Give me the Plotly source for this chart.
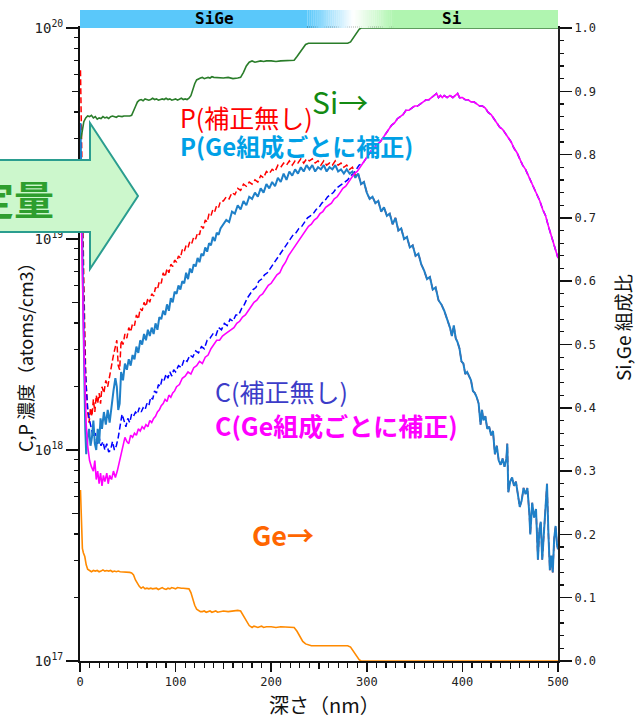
import plotly.graph_objects as go

# ---------------- data (depth in nm, concentration as log10 atoms/cm3) -------------
P_RAW_HEAD = [
    (0.5, 19.8), (2, 19.3), (4, 18.8), (6, 18.35), (8, 18.18), (9.5, 18.13), (11, 18.20),
    (12.5, 18.16), (14, 18.24), (15.5, 18.18), (17, 18.26), (18.5, 18.22), (20, 18.27),
    (21.5, 18.22), (23, 18.30), (25, 18.27), (27, 18.33), (29, 18.30), (31, 18.36),
    (33, 18.40), (35, 18.45), (37, 18.50), (38.5, 18.52), (40, 18.40), (41.5, 18.38),
    (43, 18.52), (45, 18.50), (47, 18.55), (49, 18.53), (51, 18.58), (53, 18.56),
    (55, 18.60), (57, 18.59), (59, 18.64), (61, 18.62), (63, 18.67), (65, 18.66),
    (67, 18.70), (69, 18.68), (71, 18.72), (73, 18.70), (75, 18.74), (77, 18.73),
    (79, 18.77), (81, 18.76), (83, 18.80), (85, 18.79), (87, 18.84), (89, 18.82),
    (91, 18.86), (93, 18.84), (95, 18.88), (97, 18.87), (99, 18.90), (101, 18.89),
    (103, 18.92), (105, 18.91), (107, 18.95), (109, 18.94), (111, 18.97), (113, 18.96),
    (115, 18.99), (117, 18.98), (119, 19.01), (121, 19.00), (123, 19.03), (125, 19.02),
    (127, 19.06), (129, 19.05), (131, 19.09), (133, 19.08), (135, 19.12), (137, 19.11),
    (139, 19.14), (141, 19.13), (143, 19.16), (145, 19.15), (147, 19.18), (150, 19.18),
    (153, 19.20), (156, 19.19), (159, 19.22), (162, 19.21), (165, 19.24), (168, 19.23),
    (171, 19.26), (174, 19.25), (177, 19.27), (180, 19.26), (183, 19.28), (186, 19.27),
    (189, 19.30), (192, 19.29), (195, 19.32), (198, 19.31), (201, 19.33), (204, 19.32),
    (207, 19.35), (210, 19.34), (213, 19.36), (216, 19.35), (219, 19.37), (222, 19.35),
    (225, 19.37), (228, 19.36), (231, 19.38), (234, 19.36), (237, 19.38), (240, 19.37),
    (243, 19.38), (246, 19.36), (249, 19.37), (252, 19.35), (255, 19.37), (258, 19.35),
    (261, 19.36), (264, 19.35), (267, 19.37), (270, 19.35), (273, 19.36), (276, 19.34),
    (279, 19.35), (282, 19.33), (285, 19.34), (288, 19.30),
]

P_CORR = [
    (0.5, 19.55), (2, 19.0), (4, 18.5), (5.5, 18.1), (6.5, 17.98), (8, 18.06), (9.5, 18.10),
    (11, 18.02), (12.5, 18.06), (14, 18.14), (15.5, 18.03), (17, 18.00), (18.5, 18.10),
    (20, 18.03), (21.5, 18.15), (23, 18.10), (25, 18.18), (27, 18.12), (29, 18.19),
    (31, 18.13), (33, 18.22), (35, 18.28), (37, 18.34), (38.5, 18.30), (40, 18.19),
    (41.5, 18.22), (43, 18.37), (45, 18.33), (47, 18.41), (49, 18.38), (51, 18.43),
    (53, 18.40), (55, 18.45), (57, 18.43), (59, 18.49), (61, 18.46), (63, 18.52),
    (65, 18.50), (67, 18.55), (69, 18.52), (71, 18.57), (73, 18.54), (75, 18.58),
    (77, 18.55), (79, 18.60), (81, 18.57), (83, 18.63), (85, 18.62), (87, 18.66),
    (89, 18.64), (91, 18.69), (93, 18.66), (95, 18.72), (97, 18.70), (99, 18.75),
    (101, 18.74), (103, 18.78), (105, 18.76), (107, 18.80), (109, 18.79), (111, 18.84),
    (113, 18.81), (115, 18.86), (117, 18.84), (119, 18.88), (121, 18.87), (123, 18.91),
    (125, 18.89), (127, 18.93), (129, 18.92), (131, 18.96), (133, 18.94), (135, 18.98),
    (137, 18.97), (139, 19.01), (141, 18.99), (143, 19.03), (145, 19.02), (147, 19.05),
    (150, 19.07), (153, 19.09), (156, 19.08), (159, 19.13), (162, 19.12), (165, 19.16),
    (168, 19.14), (171, 19.18), (174, 19.16), (177, 19.20), (180, 19.19), (183, 19.22),
    (186, 19.20), (189, 19.24), (192, 19.22), (195, 19.26), (198, 19.24), (201, 19.27),
    (204, 19.25), (207, 19.29), (210, 19.27), (213, 19.31), (216, 19.28), (219, 19.32),
    (222, 19.30), (225, 19.33), (228, 19.31), (231, 19.34), (234, 19.32), (237, 19.35),
    (240, 19.33), (243, 19.35), (246, 19.32), (249, 19.34), (252, 19.33), (255, 19.35),
    (258, 19.32), (261, 19.34), (264, 19.33), (267, 19.35), (270, 19.32), (273, 19.33),
    (276, 19.31), (279, 19.33), (282, 19.31), (285, 19.32), (288, 19.29), (291, 19.31),
    (294, 19.26), (297, 19.27), (300, 19.22), (303, 19.19), (306, 19.20), (309, 19.17),
    (312, 19.18), (315, 19.13), (318, 19.15), (321, 19.11), (324, 19.12), (327, 19.07),
    (330, 19.10), (333, 19.04), (336, 19.05), (339, 19.00), (342, 19.01), (345, 18.96),
    (348, 18.97), (351, 18.92), (354, 18.93), (357, 18.88), (360, 18.85), (363, 18.81),
    (366, 18.82), (369, 18.76), (372, 18.77), (375, 18.71), (378, 18.69), (381, 18.66),
    (384, 18.62), (387, 18.58), (389, 18.54), (391, 18.59), (393, 18.53), (395, 18.51),
    (397, 18.48), (399, 18.42), (401, 18.41), (403, 18.36), (405, 18.37), (407, 18.35),
    (409, 18.33), (411, 18.28), (413, 18.27), (415, 18.25), (417, 18.22), (419, 18.12),
    (420.5, 18.19), (422, 18.14), (424, 18.16), (426, 18.10), (428, 18.11), (430, 18.07),
    (432, 18.09), (434, 17.98), (436, 18.02), (438, 17.95), (440, 17.93), (442, 17.96),
    (444, 17.92), (446, 17.96), (447, 18.03), (448, 17.80), (450, 17.85), (452, 17.87),
    (454, 17.83), (456, 17.85), (458, 17.78), (460, 17.73), (462, 17.76), (464, 17.82),
    (466, 17.79), (468, 17.82), (470, 17.70), (471, 17.60), (473, 17.75), (475, 17.68),
    (477, 17.72), (479, 17.48), (480.5, 17.62), (482, 17.66), (483.5, 17.48), (485, 17.58),
    (487, 17.70), (488.5, 17.84), (490, 17.60), (491.5, 17.43), (493, 17.50),
    (494.5, 17.42), (496, 17.58), (497.5, 17.64), (499, 17.55), (500, 17.53),
]

C_RAW_HEAD = [
    (0.5, 19.5), (2, 19.1), (3, 18.8), (5, 18.45), (6.5, 18.30), (8, 18.2), (10, 18.14),
    (12, 18.10), (14, 18.06), (16, 18.08), (18, 18.03), (20, 18.06), (22, 18.02),
    (24, 18.04), (26, 18.00), (28, 18.03), (30, 17.99), (32, 18.00), (34, 18.04),
    (36, 18.00), (38, 18.02), (40, 18.06), (42, 18.12), (44, 18.17), (46, 18.14),
    (48, 18.11), (50, 18.15), (52, 18.13), (54, 18.17), (56, 18.16), (58, 18.18),
    (60, 18.17), (62, 18.20), (64, 18.18), (66, 18.20), (68, 18.19), (70, 18.22),
    (72, 18.21), (74, 18.25), (76, 18.24), (78, 18.28), (80, 18.27), (82, 18.31),
    (84, 18.30), (86, 18.34), (88, 18.33), (90, 18.36), (92, 18.34), (94, 18.37),
    (96, 18.35), (98, 18.38), (100, 18.37), (103, 18.40), (106, 18.39), (109, 18.43),
    (112, 18.42), (115, 18.45), (118, 18.44), (121, 18.47), (124, 18.46), (127, 18.49),
    (130, 18.48), (133, 18.52), (136, 18.53), (139, 18.55), (142, 18.54), (145, 18.58),
    (148, 18.57), (151, 18.60), (154, 18.59), (157, 18.62), (160, 18.61), (163, 18.64),
    (166, 18.64), (169, 18.67), (172, 18.69), (175, 18.72), (178, 18.74), (181, 18.76),
    (184, 18.77), (187, 18.80), (190, 18.81), (193, 18.83), (196, 18.84), (199, 18.86),
    (202, 18.88), (205, 18.90), (208, 18.92), (211, 18.94), (214, 18.96), (217, 18.98),
    (220, 19.00), (223, 19.02), (226, 19.03), (229, 19.05), (232, 19.06), (235, 19.08),
    (238, 19.10), (241, 19.11), (244, 19.12), (247, 19.14), (250, 19.15), (253, 19.17),
    (256, 19.18), (259, 19.20), (262, 19.21), (265, 19.22), (268, 19.24), (271, 19.25),
    (274, 19.26), (277, 19.27), (280, 19.28), (283, 19.30), (286, 19.31), (289, 19.33),
    (292, 19.35),
]

C_CORR_HEAD = [
    (0.5, 19.3), (2, 18.9), (3.5, 18.6), (5, 18.33), (6.5, 18.12), (8, 18.02), (10, 17.95),
    (12, 17.92), (14, 17.90), (15.5, 17.95), (17, 17.86), (18.5, 17.90), (20, 17.84),
    (21.5, 17.89), (23, 17.83), (24.5, 17.88), (26, 17.85), (28, 17.89), (29.5, 17.84),
    (31, 17.88), (33, 17.86), (35, 17.90), (37, 17.87), (39, 17.90), (41, 17.94),
    (43, 17.99), (45, 18.02), (47, 18.06), (49, 18.04), (51, 18.03), (53, 18.07),
    (55, 18.06), (57, 18.08), (59, 18.07), (61, 18.10), (63, 18.09), (65, 18.11),
    (67, 18.10), (69, 18.12), (71, 18.11), (73, 18.14), (75, 18.13), (77, 18.15),
    (79, 18.16), (81, 18.18), (83, 18.19), (85, 18.21), (87, 18.22), (89, 18.24),
    (91, 18.23), (93, 18.26), (95, 18.25), (97, 18.27), (99, 18.28), (101, 18.30),
    (104, 18.31), (107, 18.34), (110, 18.35), (113, 18.37), (116, 18.36), (119, 18.39),
    (122, 18.40), (125, 18.42), (128, 18.41), (131, 18.44), (134, 18.45), (137, 18.48),
    (140, 18.50), (143, 18.52), (146, 18.52), (149, 18.54), (152, 18.55), (155, 18.56),
    (158, 18.57), (161, 18.58), (164, 18.60), (167, 18.61), (170, 18.63), (173, 18.64),
    (176, 18.66), (179, 18.68), (182, 18.70), (185, 18.71), (188, 18.73), (191, 18.74),
    (194, 18.76), (197, 18.78), (200, 18.79), (203, 18.81), (206, 18.83), (209, 18.84),
    (212, 18.87), (215, 18.89), (218, 18.92), (221, 18.94), (224, 18.96), (227, 18.98),
    (230, 19.00), (233, 19.02), (236, 19.04), (239, 19.06), (242, 19.07), (245, 19.09),
    (248, 19.10), (251, 19.12), (254, 19.13), (257, 19.15), (260, 19.16), (263, 19.17),
    (266, 19.19), (269, 19.20), (272, 19.22), (275, 19.24), (278, 19.25), (281, 19.27),
    (284, 19.29), (287, 19.31), (290, 19.32), (293, 19.34),
]

C_TAIL = [
    (296, 19.36), (299, 19.38), (302, 19.40), (305, 19.42), (308, 19.43), (311, 19.45),
    (314, 19.46), (317, 19.48), (320, 19.50), (323, 19.52), (326, 19.54), (329, 19.55),
    (332, 19.57), (335, 19.58), (338, 19.59), (341, 19.61), (344, 19.61), (347, 19.62),
    (350, 19.63), (353, 19.63), (356, 19.64), (359, 19.65), (362, 19.66), (365, 19.66),
    (368, 19.67), (371, 19.68), (373, 19.69), (375, 19.67), (377, 19.68), (379, 19.67),
    (381, 19.68), (384, 19.67), (387, 19.68), (390, 19.67), (393, 19.68), (395, 19.69),
    (397, 19.67), (400, 19.67), (403, 19.66), (406, 19.66), (409, 19.65), (412, 19.65),
    (415, 19.64), (418, 19.63), (421, 19.63), (424, 19.62), (427, 19.60), (430, 19.59),
    (433, 19.57), (436, 19.55), (439, 19.53), (442, 19.52), (445, 19.50), (448, 19.48),
    (451, 19.46), (454, 19.43), (457, 19.41), (460, 19.38), (463, 19.35), (466, 19.33),
    (469, 19.30), (472, 19.27), (475, 19.24), (478, 19.21), (481, 19.18), (484, 19.14),
    (487, 19.11), (490, 19.06), (492, 19.03), (494, 19.00), (496, 18.98), (498, 18.94),
    (500, 18.91),
]

SI_FRACTION = [
    (1, 0.825), (2.5, 0.84), (4, 0.852), (6, 0.858), (8, 0.861), (10, 0.860), (12, 0.862),
    (14, 0.858), (16, 0.860), (18, 0.856), (20, 0.858), (22, 0.857), (24, 0.860),
    (26, 0.858), (28, 0.859), (30, 0.857), (32, 0.860), (34, 0.861), (36, 0.860),
    (38, 0.859), (40, 0.861), (42, 0.860), (44, 0.860), (46, 0.861), (48, 0.861),
    (50, 0.860), (52, 0.861), (54, 0.862), (56, 0.868), (58, 0.876), (60, 0.883),
    (62, 0.886), (64, 0.887), (66, 0.885), (68, 0.888), (70, 0.887), (72, 0.886),
    (74, 0.887), (76, 0.889), (78, 0.887), (80, 0.888), (82, 0.886), (84, 0.887),
    (86, 0.888), (88, 0.887), (90, 0.889), (92, 0.887), (94, 0.888), (96, 0.886),
    (98, 0.887), (100, 0.888), (102, 0.886), (104, 0.888), (106, 0.889), (108, 0.887),
    (110, 0.888), (112, 0.887), (114, 0.889), (116, 0.893), (118, 0.903), (120, 0.912),
    (122, 0.918), (124, 0.920), (126, 0.921), (128, 0.922), (130, 0.920), (132, 0.921),
    (134, 0.922), (136, 0.921), (138, 0.923), (140, 0.922), (145, 0.921), (150, 0.921),
    (155, 0.922), (160, 0.920), (165, 0.921), (168, 0.922), (171, 0.930), (174, 0.940),
    (177, 0.946), (180, 0.948), (183, 0.946), (186, 0.947), (189, 0.948), (192, 0.947),
    (195, 0.948), (200, 0.948), (205, 0.947), (210, 0.948), (215, 0.948), (220, 0.948),
    (224, 0.949), (227, 0.955), (230, 0.962), (233, 0.969), (236, 0.974), (239, 0.976),
    (242, 0.976), (250, 0.976), (260, 0.976), (270, 0.976), (280, 0.976), (283, 0.978),
    (286, 0.985), (289, 0.993), (292, 0.998), (294, 1.0), (500, 1.0),
]

GE_FRACTION = [
    (0.5, 0.27), (1.5, 0.22), (2.5, 0.178), (3.5, 0.171), (5, 0.165), (6.5, 0.152),
    (8, 0.145), (10, 0.143), (12, 0.141), (14, 0.143), (16, 0.142), (18, 0.143),
    (20, 0.141), (22, 0.142), (24, 0.144), (26, 0.142), (28, 0.143), (30, 0.142),
    (32, 0.143), (34, 0.141), (36, 0.142), (38, 0.141), (40, 0.142), (42, 0.141),
    (44, 0.141), (46, 0.141), (48, 0.140), (50, 0.140), (52, 0.140), (54, 0.139),
    (56, 0.136), (58, 0.128), (60, 0.122), (62, 0.118), (64, 0.115), (66, 0.117),
    (68, 0.114), (70, 0.115), (72, 0.114), (74, 0.115), (76, 0.114), (78, 0.114),
    (80, 0.115), (82, 0.113), (84, 0.114), (86, 0.116), (88, 0.114), (90, 0.113),
    (92, 0.115), (94, 0.114), (96, 0.116), (98, 0.115), (100, 0.114), (102, 0.116),
    (104, 0.115), (106, 0.115), (108, 0.115), (110, 0.115), (112, 0.115), (114, 0.114),
    (116, 0.108), (118, 0.097), (120, 0.088), (122, 0.082), (124, 0.080), (126, 0.078),
    (128, 0.078), (130, 0.079), (132, 0.077), (134, 0.078), (136, 0.079), (138, 0.077),
    (140, 0.078), (142, 0.079), (144, 0.077), (146, 0.078), (148, 0.078), (150, 0.079),
    (155, 0.078), (160, 0.079), (165, 0.080), (168, 0.079), (171, 0.072), (174, 0.063),
    (177, 0.056), (180, 0.053), (182, 0.055), (184, 0.054), (186, 0.053), (188, 0.054),
    (190, 0.055), (192, 0.053), (195, 0.054), (200, 0.054), (205, 0.053), (210, 0.054),
    (215, 0.054), (220, 0.054), (224, 0.053), (227, 0.047), (230, 0.039), (233, 0.031),
    (236, 0.027), (239, 0.026), (242, 0.024), (250, 0.024), (260, 0.024), (270, 0.024),
    (280, 0.024), (283, 0.022), (286, 0.015), (289, 0.007), (292, 0.002), (294, 0.0),
    (500, 0.0),
]

X_TICKS = [0, 100, 200, 300, 400, 500]
Y_TICKS = [1e17, 1e18, 1e19, 1e20]
Y_TICK_TEXT = ["10<sup>17</sup>", "10<sup>18</sup>", "10<sup>19</sup>", "10<sup>20</sup>"]
R_TICKS = [0.0, 0.1, 0.2, 0.3, 0.4, 0.5, 0.6, 0.7, 0.8, 0.9, 1.0]
R_TICK_TEXT = ["0.0", "0.1", "0.2", "0.3", "0.4", "0.5", "0.6", "0.7", "0.8", "0.9", "1.0"]

# ---------------- helpers ----------------
W, H = 638, 718
ML, MR, MT, MB = 80, 80, 28, 57
PW, PH = W - ML - MR, H - MT - MB


def px_x(px):
    return (px - ML) / PW


def px_y(py):
    return (H - MB - py) / PH


def split(pairs):
    return [p[0] for p in pairs], [p[1] for p in pairs]


def conc(pairs):
    xs, ls = split(pairs)
    return xs, [10.0 ** v for v in ls]


p_raw = P_RAW_HEAD + [p for p in P_CORR if p[0] > P_RAW_HEAD[-1][0]]
c_raw = C_RAW_HEAD + C_TAIL
c_corr = C_CORR_HEAD + C_TAIL

fig = go.Figure()

x, y = conc(p_raw)
fig.add_trace(go.Scatter(x=x, y=y, mode="lines", name="P(補正無し)",
                         line=dict(color="#ff0000", width=1.5, dash="6px,3px")))
x, y = conc(c_raw)
fig.add_trace(go.Scatter(x=x, y=y, mode="lines", name="C(補正無し)",
                         line=dict(color="#0000ff", width=1.5, dash="6px,3px")))
x, y = conc(P_CORR)
fig.add_trace(go.Scatter(x=x, y=y, mode="lines", name="P(Ge組成ごとに補正)",
                         line=dict(color="#1f80c8", width=2)))
x, y = conc(c_corr)
fig.add_trace(go.Scatter(x=x, y=y, mode="lines", name="C(Ge組成ごとに補正)",
                         line=dict(color="#ff00ff", width=1.6)))
x, y = split(GE_FRACTION)
fig.add_trace(go.Scatter(x=x, y=y, mode="lines", name="Ge", yaxis="y2",
                         line=dict(color="#ff8a00", width=1.6)))
x, y = split(SI_FRACTION)
fig.add_trace(go.Scatter(x=x, y=y, mode="lines", name="Si", yaxis="y2",
                         line=dict(color="#2a7d2a", width=1.6)))
# dummy trace carrying the overlay axes used for the intermediate tick marks
fig.add_trace(go.Scatter(x=[None], y=[None], xaxis="x2", yaxis="y3",
                         showlegend=False, hoverinfo="skip"))

TICK_FONT = dict(family="DejaVu Sans Mono", size=12, color="#222222")
LOG_TICK_FONT = dict(family="DejaVu Sans Mono", size=14, color="#222222")
minor_log = [k * 10.0 ** e for e in (17, 18, 19) for k in range(2, 10)]

fig.update_layout(
    width=W, height=H, autosize=False,
    margin=dict(l=ML, r=MR, t=MT, b=MB, pad=0),
    paper_bgcolor="white", plot_bgcolor="white",
    showlegend=False,
    font=TICK_FONT,
    xaxis=dict(range=[0, 500], tickvals=X_TICKS, ticks="outside", ticklen=9,
               tickwidth=1.5, tickcolor="#111", showline=True, mirror=True,
               linecolor="#111", linewidth=2, showgrid=False, zeroline=False,
               tickfont=TICK_FONT, automargin=False,
               minor=dict(ticks="outside", ticklen=5, tickwidth=1.2, dtick=10,
                          tick0=0, tickcolor="#111", showgrid=False)),
    xaxis2=dict(range=[0, 500], overlaying="x", anchor="y3", side="bottom",
                tickvals=[50, 150, 250, 350, 450], ticks="outside", ticklen=7,
                tickwidth=1.2, tickcolor="#111", showticklabels=False,
                showline=False, showgrid=False, zeroline=False),
    yaxis=dict(type="log", range=[17, 20], tickvals=Y_TICKS, ticktext=Y_TICK_TEXT,
               ticks="outside", ticklen=12, tickwidth=1.5, tickcolor="#111",
               showline=True, linecolor="#111", linewidth=2, showgrid=False,
               zeroline=False, tickfont=LOG_TICK_FONT, automargin=False,
               minor=dict(ticks="outside", ticklen=4, tickwidth=1.2,
                          tickvals=minor_log, tickcolor="#111", showgrid=False)),
    yaxis3=dict(type="log", range=[17, 20], overlaying="y", anchor="x2", side="left",
                tickvals=[5e17, 5e18, 5e19], ticks="outside", ticklen=7,
                tickwidth=1.2, tickcolor="#111", showticklabels=False,
                showline=False, showgrid=False, zeroline=False),
    yaxis2=dict(range=[0, 1], overlaying="y", side="right", anchor="x",
                tickvals=R_TICKS, ticktext=R_TICK_TEXT, ticks="outside", ticklen=12,
                tickwidth=1.5, tickcolor="#111", showline=True, linecolor="#222",
                linewidth=2, showgrid=False, zeroline=False, tickfont=TICK_FONT,
                automargin=False,
                minor=dict(ticks="outside", ticklen=4, tickwidth=1.2, dtick=0.02,
                           tick0=0, tickcolor="#111", showgrid=False)),
)

# ---------------- top band SiGe / Si with gradient ----------------
shapes = []
BLUE = (90, 200, 250)
GREEN = (176, 245, 176)
WHITE = (255, 255, 255)
band_y0, band_y1 = px_y(28), px_y(10)


def mix(a, b, t):
    return "rgb(%d,%d,%d)" % tuple(round(a[i] + (b[i] - a[i]) * t) for i in range(3))


def band(x0, x1, color):
    shapes.append(dict(type="rect", xref="x", yref="paper", x0=x0, x1=x1,
                       y0=band_y0, y1=band_y1, fillcolor=color,
                       line=dict(width=0), layer="above"))


band(0, 238, mix(BLUE, BLUE, 0))
n1 = 24
for i in range(n1):
    band(238 + i * 2, 238 + i * 2 + 2.2, mix(BLUE, WHITE, (i + 0.5) / n1))
n2 = 21
for i in range(n2):
    band(286 + i * 2, 286 + i * 2 + 2.2, mix(WHITE, GREEN, (i + 0.5) / n2))
band(327.5, 500, mix(GREEN, GREEN, 0))

# ---------------- big green arrow ----------------
pts = [(-120, 160), (90, 160), (90, 123), (138, 196), (90, 269), (90, 232), (-120, 232)]
path = "M " + " L ".join("%.5f,%.5f" % (px_x(a), px_y(b)) for a, b in pts) + " Z"
shapes.append(dict(type="path", xref="paper", yref="paper", path=path,
                   fillcolor="#ccf7cc", line=dict(color="#2a9d8f", width=2),
                   layer="above"))
fig.update_layout(shapes=shapes)

# ---------------- annotations ----------------
JP = "Noto Sans CJK JP"
ann = []


def text(s, px, py, color, size, family=JP, anchor="left", angle=0, xref="paper",
         xval=None):
    ann.append(dict(text=s, x=px_x(px) if xval is None else xval, y=px_y(py),
                    xref=xref, yref="paper", xanchor=anchor, yanchor="middle",
                    showarrow=False, textangle=angle,
                    font=dict(family=family, size=size, color=color)))


text("<b>SiGe</b>", 0, 18.5, "#000000", 16, family="DejaVu Sans Mono",
     anchor="center", xref="x", xval=141)
text("<b>Si</b>", 0, 18.5, "#000000", 16, family="DejaVu Sans Mono",
     anchor="center", xref="x", xval=389)
text("P(補正無し)", 178, 117, "#ff0000", 25)
text("<b>P(Ge組成ごとに補正)</b>", 178, 146, "#00a0e6", 24)
text("Si→", 310, 101, "#138a13", 30)
text("C(補正無し)", 213, 391, "#3c3cc8", 25)
text("<b>C(Ge組成ごとに補正)</b>", 213, 425, "#ff00ff", 25)
text("<b>Ge→</b>", 250, 534, "#ff6600", 27)
text("<b>定量</b>", 56, 198, "#2e9e2e", 40, anchor="right")
text("C,P 濃度（atoms/cm3）", 25, 353, "#111111", 18, angle=-90, anchor="center")
text("Si,Ge 組成比", 622, 328, "#111111", 19, angle=-90, anchor="center")
text("深さ（nm）", 324, 705, "#111111", 20, anchor="center")

fig.update_layout(annotations=ann)

fig.write_html("out.html",
               config={"displayModeBar": False, "staticPlot": True},
               post_script="document.body.style.margin='0px';"
                           "document.body.style.padding='0px';"
                           "document.body.style.overflow='hidden';")
